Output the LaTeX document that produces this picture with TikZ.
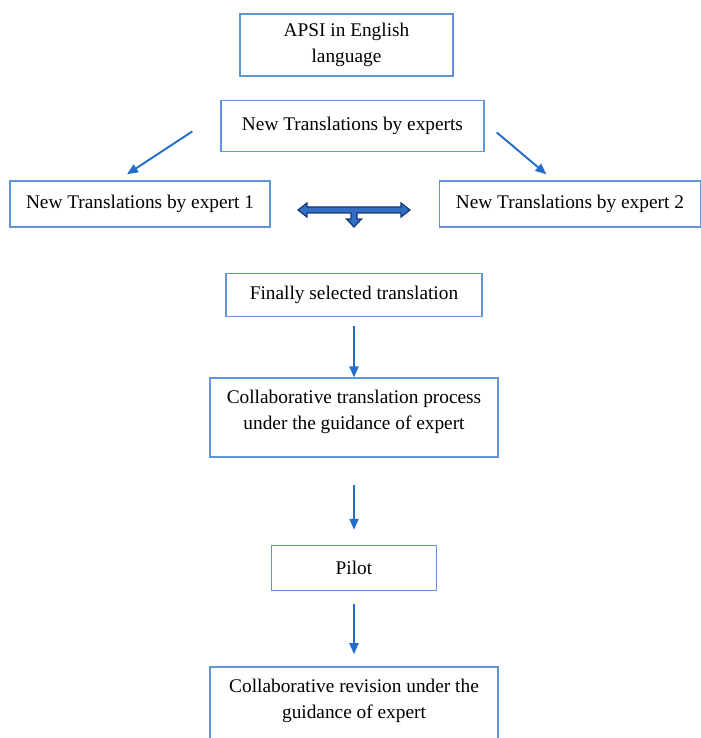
\documentclass[tikz,border=0pt]{standalone}
\usepackage{fontspec}
\setmainfont{Liberation Serif}
\usetikzlibrary{arrows.meta,positioning}
\definecolor{boxblue}{RGB}{95,150,215}
\definecolor{arrowblue}{RGB}{35,110,205}
\definecolor{hubdark}{RGB}{25,55,115}
\definecolor{hubfill}{RGB}{50,110,195}
\tikzset{
  box/.style  ={draw=boxblue,line width=0.8pt,align=center,
                font=\fontsize{11}{14.7}\selectfont,inner sep=4pt},
  tall/.style ={box,minimum width=5.76cm,minimum height=1.58cm,text depth=0.3cm},
  flow/.style ={-{Triangle[length=2.2mm,width=1.8mm]},draw=arrowblue,
                fill=arrowblue,line width=1.1pt},
  hub/.style  ={draw=hubdark,fill=hubfill,line width=0.7pt},
}

\begin{document}
\begin{tikzpicture}
  \useasboundingbox (0,0) rectangle (14,-14.76);

  \node[box,minimum width=4.26cm,minimum height=1.24cm] (apsi) at (6.93,-0.9)
    {APSI in English\\language};
  \node[box,below=0.46cm of apsi,xshift=0.12cm,minimum width=5.26cm,
        minimum height=1.02cm] (experts) {New Translations by experts};

  \node[box,minimum width=5.2cm,minimum height=0.92cm] (e1) at (2.8,-4.08)
    {New Translations by expert 1};
  \node[box,right=3.36cm of e1,minimum width=5.22cm,minimum height=0.92cm] (e2)
    {New Translations by expert 2};
  \coordinate (hub) at (7.08,-4.2);

  \node[box,below=1.26cm of hub,minimum width=5.12cm,minimum height=0.86cm] (final)
    {Finally selected translation};
  \node[tall,below=1.2cm of final] (collab)
    {Collaborative translation process\\under the guidance of expert};
  \node[box,below=1.74cm of collab,minimum width=3.3cm,minimum height=0.9cm] (pilot)
    {Pilot};
  \node[tall,below=1.5cm of pilot] (revision)
    {Collaborative revision under the\\guidance of expert};

  \draw[flow] ([xshift=-0.56cm,yshift=-0.11cm]experts.west)
    -- ([xshift=-0.26cm,yshift=0.12cm]e1.north);
  \draw[flow] ([xshift=0.24cm,yshift=-0.13cm]experts.east)
    -- ([xshift=-0.47cm,yshift=0.12cm]e2.north);

  % two-way arrow between the experts, pointing down to the selection
  \begin{scope}[shift={(hub)},x=0.02cm,y=-0.02cm]
    \filldraw[hub] (-56,0) -- (-47,-7) -- (-47,-3) -- (47,-3) -- (47,-7) -- (56,0)
      -- (47,7) -- (47,3) -- (3,3) -- (3,9) -- (7.5,9) -- (0,17) -- (-7.5,9)
      -- (-3,9) -- (-3,3) -- (-47,3) -- (-47,7) -- cycle;
  \end{scope}

  \draw[flow,shorten <=0.18cm] (final.south) -- (collab.north);
  \draw[flow,shorten <=0.54cm,shorten >=0.3cm] (collab.south) -- (pilot.north);
  \draw[flow,shorten <=0.26cm,shorten >=0.24cm] (pilot.south) -- (revision.north);
\end{tikzpicture}
\end{document}
